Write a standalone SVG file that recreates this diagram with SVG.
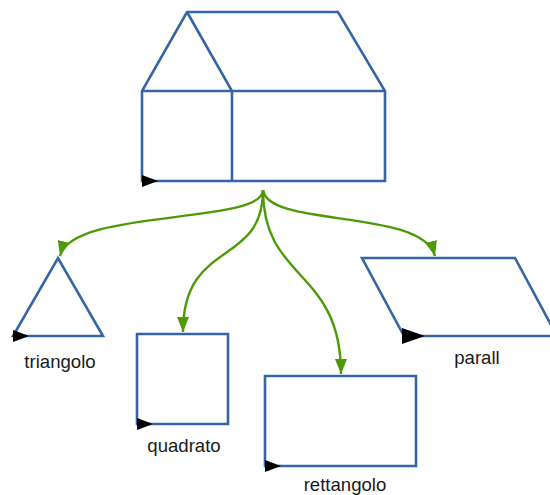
<svg xmlns="http://www.w3.org/2000/svg" width="550" height="495" viewBox="0 0 550 495">
<style>
.shape{fill:none;stroke:#3465a4;stroke-width:2.6;stroke-linejoin:miter}
.edge{fill:none;stroke:#4e9a06;stroke-width:2.4}
.lbl{font-family:"Liberation Sans",Arial,sans-serif;font-size:18.6px;fill:#1a1a1a;text-anchor:middle}
</style>
<defs>
<marker id="start" markerUnits="userSpaceOnUse" markerWidth="18" markerHeight="14" refX="0" refY="6" orient="0">
<path d="M0,0 L16,6 L0,12 Z" fill="#000"/>
</marker>
<marker id="startBig" markerUnits="userSpaceOnUse" markerWidth="26" markerHeight="18" refX="2" refY="8" orient="0">
<path d="M0,0 L23,8 L0,16 Z" fill="#000"/>
</marker>
<marker id="arrow" markerUnits="userSpaceOnUse" markerWidth="16" markerHeight="14" refX="15" refY="6" orient="auto">
<path d="M0,0 L15,6 L0,12 Z" fill="#4e9a06"/>
</marker>
</defs>
<rect width="550" height="495" fill="#fff"/>
<g id="house">
<path class="shape" marker-start="url(#start)" d="M142,181 L385,181 L385,91 L338,12 L187,12 L142,91 Z"/>
<path class="shape" d="M142,91 L385,91 M187,12 L232,91 L232,181"/>
</g>
<g id="triangolo">
<path class="shape" marker-start="url(#start)" d="M13,336 L103,336 L58,258 Z"/>
<text class="lbl" x="60" y="368">triangolo</text>
</g>
<g id="quadrato">
<path class="shape" marker-start="url(#start)" d="M137,424 L228,424 L228,334 L137,334 Z"/>
<text class="lbl" x="184" y="452">quadrato</text>
</g>
<g id="rettangolo">
<path class="shape" marker-start="url(#start)" d="M265,466 L416,466 L416,376 L265,376 Z"/>
<text class="lbl" x="345" y="491">rettangolo</text>
</g>
<g id="parall">
<path class="shape" marker-start="url(#startBig)" d="M404,336 L557,336 L515,258 L362,258 Z"/>
<text class="lbl" x="477" y="364">parall</text>
</g>
<g id="connectors">
<path class="edge" marker-end="url(#arrow)" d="M263,190 C263,225 72,208 60,256"/>
<path class="edge" marker-end="url(#arrow)" d="M263,190 C263,268 183,238 183,332"/>
<path class="edge" marker-end="url(#arrow)" d="M263,190 C263,282 341,268 341,374"/>
<path class="edge" marker-end="url(#arrow)" d="M263,190 C268,228 422,208 435,256"/>
</g>
</svg>
